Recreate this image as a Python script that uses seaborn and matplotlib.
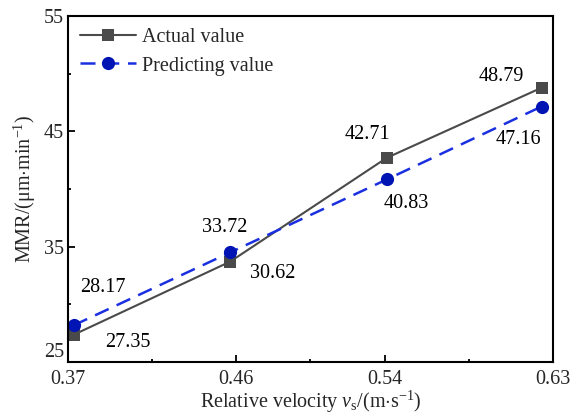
import matplotlib
matplotlib.use("Agg")
import matplotlib.pyplot as plt
import seaborn as sns
import pandas as pd
from matplotlib.ticker import FixedLocator

# Values
velocity = [0.373, 0.457, 0.541, 0.624]
actual_mmr = [27.35, 33.70, 42.71, 48.79]
predicted_mmr = [28.17, 34.50, 40.83, 47.16]
actual_labels = ["27.35", "30.62", "42.71", "48.79"]
predicted_labels = ["28.17", "33.72", "40.83", "47.16"]
x_ticks = [0.37, 0.46, 0.54, 0.63]
y_ticks = [25, 35, 45, 55]

sns.set_style("ticks")
plt.rcParams['font.family'] = ['Liberation Serif', 'DejaVu Serif']
plt.rcParams['mathtext.fontset'] = 'custom'
plt.rcParams['mathtext.rm'] = 'Liberation Serif'
plt.rcParams['mathtext.it'] = 'Liberation Serif:italic'

df = pd.DataFrame({'v': velocity, 'actual': actual_mmr, 'pred': predicted_mmr})

fig, ax = plt.subplots(figsize=(5.71, 4.15), dpi=100)
fig.subplots_adjust(left=0.119, right=0.968, bottom=0.128, top=0.961)

sns.lineplot(data=df, x='v', y='actual', ax=ax, color='#4a4a4a', linewidth=1.5,
             marker='s', markersize=8.5, markeredgewidth=0, label='Actual value')
sns.lineplot(data=df, x='v', y='pred', ax=ax, color='#1a30e0', linewidth=1.8,
             linestyle=(0, (6, 3.5)), marker='o', markersize=9.5,
             markerfacecolor='#0014b4', markeredgewidth=0, label='Predicting value')

# value labels (offsets in pixels from each point)
act_off = [(54, -8), (43, -12), (-19, 23), (-40, 11)]
pred_off = [(29, 38), (-5, 25), (19, -24), (-23, -33)]
for x, y, t, o in zip(velocity, actual_mmr, actual_labels, act_off):
    ax.annotate(t, (x, y), xytext=o, textcoords='offset pixels',
                ha='center', va='center', fontsize=14.5, color='black')
for x, y, t, o in zip(velocity, predicted_mmr, predicted_labels, pred_off):
    ax.annotate(t, (x, y), xytext=o, textcoords='offset pixels',
                ha='center', va='center', fontsize=14.5, color='black')

ax.set_xlim(0.37, 0.63)
ax.set_ylim(25, 55)
ax.xaxis.set_major_locator(FixedLocator(x_ticks))
ax.xaxis.set_minor_locator(FixedLocator([0.415, 0.50, 0.585]))
ax.set_xticklabels([f"{t:.2f}" for t in x_ticks])
ax.yaxis.set_major_locator(FixedLocator(y_ticks))
ax.yaxis.set_minor_locator(FixedLocator([30, 40, 50]))
ax.set_yticklabels([str(t) for t in y_ticks])
ax.tick_params(which='both', direction='in', labelsize=14.5, color='black',
               width=1.3, top=False, right=False)
ax.tick_params(axis='x', pad=6)
ax.tick_params(axis='y', pad=3)
ax.tick_params(which='major', length=5)
ax.tick_params(which='minor', length=2.5)
# lift the bottom y label a bit so it clears the 0.37 label
ax.get_yticklabels()[0].set_va('bottom')

for s in ax.spines.values():
    s.set_linewidth(1.5)
    s.set_color('black')

ax.set_xlabel(r"Relative velocity $v_\mathregular{s}$/(m$\cdot$s$^{-1}$)", fontsize=14.5, labelpad=0)
ax.set_ylabel(r"MMR/($\mathregular{\mu}$m$\cdot$min$^{-1}$)", fontsize=14.5, labelpad=4)

leg = ax.legend(loc='upper left', frameon=False, fontsize=14.5, handlelength=2.8,
                handletextpad=0.3, borderaxespad=0.2, labelspacing=0.45)

fig.savefig('out.png', dpi=100)
